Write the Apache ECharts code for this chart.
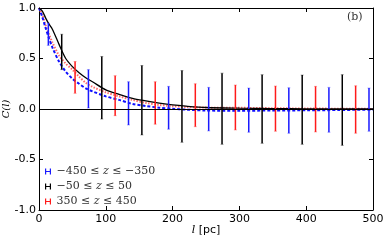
<!DOCTYPE html>
<html>
<head>
<meta charset="utf-8">
<script src="https://cdn.jsdelivr.net/npm/echarts@6/dist/echarts.min.js"></script>
<style>
html,body{margin:0;padding:0;background:#fff;}
#c{width:390px;height:241px;}
</style>
</head>
<body>
<div id="c"></div>
<script>
// Correlation curves C(l)
var curveL     = [0, 5, 10, 15, 20, 30, 40, 50, 60, 70, 80, 100, 120, 140, 160, 180, 200, 220, 250, 300, 350, 400, 450, 500];
var blackCurve = [1.0, 0.97, 0.90, 0.84, 0.79, 0.64, 0.50, 0.42, 0.36, 0.31, 0.27, 0.19, 0.145, 0.105, 0.08, 0.058, 0.04, 0.028, 0.015, 0.008, 0.004, 0.002, 0.001, 0.0];
var blueCurve  = [1.0, 0.91, 0.80, 0.70, 0.61, 0.47, 0.37, 0.30, 0.25, 0.205, 0.175, 0.125, 0.09, 0.05, 0.03, 0.013, 0.003, -0.006, -0.015, -0.017, -0.015, -0.013, -0.01, -0.006];
var redCurve   = [1.0, 0.93, 0.83, 0.74, 0.66, 0.53, 0.45, 0.39, 0.32, 0.26, 0.22, 0.165, 0.125, 0.09, 0.06, 0.04, 0.028, 0.02, 0.014, 0.012, 0.008, 0.005, 0.003, 0.001];

// Error bars
var blueL    = [14, 74, 134, 194, 254, 314, 374, 434, 494];
var blueLow  = [0.63, 0.01, -0.158, -0.20, -0.217, -0.23, -0.24, -0.23, -0.22];
var blueHigh = [0.85, 0.39, 0.27, 0.224, 0.214, 0.207, 0.21, 0.214, 0.207];
var blackL    = [34, 94, 154, 214, 274, 334, 394, 454];
var blackLow  = [0.39, -0.10, -0.257, -0.33, -0.35, -0.34, -0.35, -0.36];
var blackHigh = [0.74, 0.52, 0.43, 0.38, 0.355, 0.34, 0.336, 0.34];
var redL    = [54, 114, 174, 234, 294, 354, 414, 474];
var redLow  = [0.155, -0.066, -0.15, -0.175, -0.207, -0.22, -0.227, -0.24];
var redHigh = [0.47, 0.33, 0.27, 0.25, 0.237, 0.227, 0.224, 0.23];

var xTicks = [0, 100, 200, 300, 400, 500];
var yTicks = [-1.0, -0.5, 0.0, 0.5, 1.0];
var legendNames = ['−450 ≤ z ≤ −350', '−50 ≤ z ≤ 50', '350 ≤ z ≤ 450'];

function zip2(a, b){ return a.map(function(v,i){ return [v, b[i]]; }); }
function zip3(a, b, c){ return a.map(function(v,i){ return [v, b[i], c[i]]; }); }

function errRender(color){
  return function(params, api){
    var x = api.value(0), lo = api.value(1), hi = api.value(2);
    var p1 = api.coord([x, lo]), p2 = api.coord([x, hi]);
    return {type:'group', children:[
      {type:'line', shape:{x1:p1[0], y1:p1[1], x2:p2[0], y2:p2[1]}, style:{stroke:color, lineWidth:1.5}},
      {type:'line', shape:{x1:p1[0]-1.5, y1:p1[1], x2:p1[0]+1.5, y2:p1[1]}, style:{stroke:color, lineWidth:1, opacity:0.35}},
      {type:'line', shape:{x1:p2[0]-1.5, y1:p2[1], x2:p2[0]+1.5, y2:p2[1]}, style:{stroke:color, lineWidth:1, opacity:0.35}}
    ]};
  };
}

var hIcon = 'path://M0,0h2v4h6v-4h2v10h-2v-4h-6v4h-2z';

function legendFmt(name){
  var parts = name.split('z');
  return '{n|' + parts[0] + '}{i|z}{n|' + parts[1] + '}';
}

var axisCommon = {
  axisLine:{show:true, onZero:false, lineStyle:{color:'#000', width:1}},
  axisTick:{show:true, inside:true, length:4, lineStyle:{color:'#000'}},
  splitLine:{show:false}
};

var chart = echarts.init(document.getElementById('c'), null, {renderer:'canvas'});
chart.setOption({
  animation:false,
  backgroundColor:'#fff',
  grid:{left:39, right:17, top:8, bottom:31, containLabel:false, outerBoundsMode:'none'},
  xAxis:[
    Object.assign({type:'value', min:0, max:500, interval:100, position:'bottom',
      axisLabel:{fontFamily:'DejaVu Sans', fontSize:11, color:'#000', margin:4,
        formatter:function(v){ return xTicks.indexOf(v) >= 0 ? String(v) : ''; }},
      name:'{i|l} [pc]', nameLocation:'middle', nameGap:15, nameMoveOverlap:false,
      nameTextStyle:{fontFamily:'DejaVu Sans', fontSize:11, color:'#000',
        rich:{i:{fontFamily:'DejaVu Serif', fontStyle:'italic', fontSize:11, color:'#000'}}}
    }, axisCommon),
    Object.assign({type:'value', min:0, max:500, interval:100, position:'top', axisLabel:{show:false}}, axisCommon)
  ],
  yAxis:[
    Object.assign({type:'value', min:-1, max:1, interval:0.5, position:'left',
      axisLabel:{fontFamily:'DejaVu Sans', fontSize:11, color:'#000', margin:3,
        formatter:function(v){ return v.toFixed(1); }}
    }, axisCommon),
    Object.assign({type:'value', min:-1, max:1, interval:0.5, position:'right', axisLabel:{show:false}}, axisCommon)
  ],
  legend:{
    orient:'vertical', left:40, top:161, itemGap:4, itemWidth:7, itemHeight:6,
    selectedMode:false,
    data:[
      {name:legendNames[0], icon:hIcon},
      {name:legendNames[1], icon:hIcon},
      {name:legendNames[2], icon:hIcon}
    ],
    formatter:legendFmt,
    textStyle:{color:'#333', fontSize:11, fontFamily:'DejaVu Serif',
      rich:{n:{fontFamily:'DejaVu Serif', fontSize:11, color:'#333'},
            i:{fontFamily:'DejaVu Serif', fontStyle:'italic', fontSize:11, color:'#333'}}}
  },
  graphic:[
    {type:'text', left:347, top:12, style:{text:'(b)', font:'11px "DejaVu Serif"', fill:'#333'}},
    {type:'text', x:6, y:109, rotation:Math.PI/2,
      style:{text:'C(l)', font:'italic 10px "DejaVu Serif"', fill:'#000', align:'center', verticalAlign:'middle'}}
  ],
  series:[
    {type:'line', name:'blackCurve', data:zip2(curveL, blackCurve), smooth:0.3, showSymbol:false, symbol:'none',
      lineStyle:{color:'#000', width:1.3}, z:3,
      markLine:{silent:true, symbol:'none', label:{show:false}, lineStyle:{color:'#000', width:1.2, type:'solid'}, data:[{yAxis:0}]}},
    {type:'line', name:'redCurve', data:zip2(curveL, redCurve), smooth:0.3, showSymbol:false, symbol:'none',
      lineStyle:{color:'#ff6a6a', width:2, type:[1.5,1.5]}, z:2},
    {type:'line', name:'blueCurve', data:zip2(curveL, blueCurve), smooth:0.3, showSymbol:false, symbol:'none',
      lineStyle:{color:'#1010ff', width:2, type:[3,2]}, z:2},
    {type:'custom', name:legendNames[0], data:zip3(blueL, blueLow, blueHigh), encode:{x:0, y:[1,2]},
      renderItem:errRender('#1a1aff'), itemStyle:{color:'#1a1aff'}, z:4},
    {type:'custom', name:legendNames[1], data:zip3(blackL, blackLow, blackHigh), encode:{x:0, y:[1,2]},
      renderItem:errRender('#000'), itemStyle:{color:'#000'}, z:4},
    {type:'custom', name:legendNames[2], data:zip3(redL, redLow, redHigh), encode:{x:0, y:[1,2]},
      renderItem:errRender('#ff1a1a'), itemStyle:{color:'#ff1a1a'}, z:4}
  ]
});
</script>
</body>
</html>
